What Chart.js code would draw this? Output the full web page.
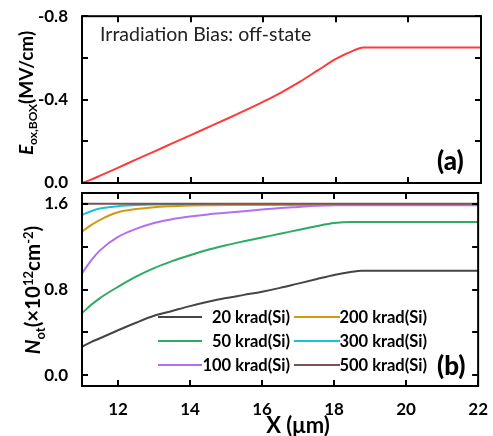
<!DOCTYPE html>
<html>
<head>
<meta charset="utf-8">
<script src="https://cdn.jsdelivr.net/npm/chart.js@4.4.1/dist/chart.umd.min.js"></script>
<style>
  body { margin: 0; background: #fff; }
  #wrap { position: relative; width: 493px; height: 436px; font-family: Lato, sans-serif; overflow: hidden; }
  #wrap canvas { position: absolute; left: 0; top: 0; }
  .txt { position: absolute; white-space: nowrap; color: #000; }
  .ytitle { position: absolute; white-space: nowrap; font-weight: bold; font-size: 19px; transform: translate(-50%, -50%) rotate(-90deg); }
  .ytitle sub, .ytitle sup { font-size: 12px; }
  .leg { position: absolute; height: 20px; }
  .leg .ln { position: absolute; left: 0; top: 9px; height: 2px; }
  .leg .lb { position: absolute; right: 0; top: 0; font-weight: bold; font-size: 16.5px; line-height: 20px; white-space: nowrap; }
</style>
</head>
<body>
<div id="wrap">
  <canvas id="top" width="493" height="436"></canvas>
  <canvas id="bot" width="493" height="436"></canvas>
  <div class="txt" style="left:100px; top:22px; font-size:19.5px; color:#222;">Irradiation Bias: off-state</div>
  <div class="txt" style="left:437px; top:144px; font-size:26px; font-weight:900;">(a)</div>
  <div class="txt" style="left:437px; top:349px; font-size:26px; font-weight:900;">(b)</div>
  <div class="ytitle" style="left:27px; top:93px;"><i>E</i><sub>ox,BOX</sub>(MV/cm)</div>
  <div class="ytitle" style="left:34px; top:290px; font-size:20.5px;"><i>N</i><sub style="font-size:13px">ot</sub>(×10<sup style="font-size:13px">12</sup>cm<sup style="font-size:13px">-2</sup>)</div>
  <div class="txt" style="left:298px; top:424px; font-size:22px; font-weight:bold; transform:translate(-50%,-50%);">X (μm)</div>
  <div id="legend"></div>
</div>
<script>
// x positions (µm) shared by all curves
const xs = [11, 11.25, 11.5, 12, 12.5, 13, 13.5, 14, 14.5, 15, 15.5, 16, 16.5, 17, 17.5, 18, 18.5, 18.75, 19, 20, 21, 22];

// (a) oxide field in the BOX, MV/cm
const eox = [0, -0.016, -0.035, -0.074, -0.113, -0.152, -0.191, -0.23, -0.269, -0.308, -0.348, -0.39, -0.435, -0.485, -0.54, -0.595, -0.636, -0.65, -0.65, -0.65, -0.65, -0.65];

// (b) trapped charge, 1e12 cm^-2
const not20 = [0.265, 0.31, 0.345, 0.42, 0.49, 0.555, 0.6, 0.645, 0.685, 0.72, 0.75, 0.78, 0.815, 0.855, 0.895, 0.935, 0.965, 0.975, 0.975, 0.975, 0.975, 0.975];
const not50 = [0.58, 0.655, 0.72, 0.825, 0.92, 1.0, 1.065, 1.12, 1.17, 1.213, 1.25, 1.285, 1.32, 1.355, 1.39, 1.42, 1.43, 1.43, 1.43, 1.43, 1.43, 1.43];
const not100 = [0.95, 1.07, 1.165, 1.29, 1.365, 1.42, 1.455, 1.48, 1.5, 1.515, 1.53, 1.545, 1.56, 1.57, 1.58, 1.585, 1.585, 1.585, 1.585, 1.585, 1.585, 1.585];
const not200 = [1.34, 1.4, 1.45, 1.52, 1.55, 1.568, 1.577, 1.583, 1.586, 1.588, 1.588, 1.588, 1.588, 1.588, 1.588, 1.588, 1.588, 1.588, 1.588, 1.588, 1.588, 1.588];
const not300 = [1.495, 1.53, 1.555, 1.577, 1.588, 1.592, 1.592, 1.592, 1.592, 1.592, 1.592, 1.592, 1.592, 1.592, 1.592, 1.592, 1.592, 1.592, 1.592, 1.592, 1.592, 1.592];
const not500 = [1.6, 1.6, 1.6, 1.6, 1.6, 1.6, 1.6, 1.6, 1.6, 1.6, 1.6, 1.6, 1.6, 1.6, 1.6, 1.6, 1.6, 1.6, 1.6, 1.6, 1.6, 1.6];

const doseNames = ["20 krad(Si)", "50 krad(Si)", "100 krad(Si)", "200 krad(Si)", "300 krad(Si)", "500 krad(Si)"];
const doseColors = ["#454545", "#2eaa62", "#b36ff0", "#d19a12", "#12c6d6", "#7d5252"];
const doseSeries = [not20, not50, not100, not200, not300, not500];
const doseOrder = [5, 4, 1, 2, 3, 0];

// tick values
const xTickLabels = [12, 14, 16, 18, 20, 22];
const topYLabels = [-0.8, -0.4, 0];
const topYMarks = [-0.8, -0.6, -0.4, -0.2, 0];
const botYLabels = [0, 0.8, 1.6];
const botYMarks = [0, 0.4, 0.8, 1.2, 1.6];

const W = 493, H = 436;
const tickFont = { family: "Lato", weight: "bold", size: 17 };

const framePlugin = {
  id: "frame",
  afterDatasetsDraw(chart, args, opts) {
    const { ctx, chartArea: a, scales } = chart;
    ctx.save();
    ctx.strokeStyle = "#000";
    ctx.lineWidth = 2;
    ctx.beginPath();
    opts.xMarks.forEach((v) => {
      const px = Math.round(scales.x.getPixelForValue(v));
      ctx.moveTo(px, a.bottom); ctx.lineTo(px, a.bottom - 6);
      ctx.moveTo(px, a.top); ctx.lineTo(px, a.top + 6);
    });
    opts.yMarks.forEach((v) => {
      const py = Math.round(scales.y.getPixelForValue(v));
      ctx.moveTo(a.left, py); ctx.lineTo(a.left + 6, py);
      ctx.moveTo(a.right, py); ctx.lineTo(a.right - 6, py);
    });
    ctx.stroke();
    ctx.strokeRect(a.left, a.top, a.right - a.left, a.bottom - a.top);
    ctx.restore();
  }
};

const pts = (ys) => xs.map((x, i) => ({ x: x, y: ys[i] }));

const yAxis = (min, max, labels, reverse) => ({
  type: "linear",
  min: min,
  max: max,
  reverse: reverse,
  grid: { display: false },
  border: { display: false },
  afterBuildTicks: (s) => { s.ticks = labels.map((v) => ({ value: v })); },
  afterFit: (s) => { s.width = 82; },
  ticks: { font: tickFont, color: "#000", padding: 6, callback: (v) => Number(v).toFixed(1) }
});

new Chart(document.getElementById("top"), {
  type: "line",
  data: {
    datasets: [{
      data: pts(eox),
      borderColor: "#ff3a3a",
      borderWidth: 2,
      pointRadius: 0,
      cubicInterpolationMode: "monotone"
    }]
  },
  options: {
    responsive: false,
    animation: false,
    events: [],
    layout: { padding: { left: 0, right: 12, top: 12, bottom: H - 183 } },
    plugins: { legend: { display: false }, tooltip: { enabled: false }, frame: { xMarks: xTickLabels, yMarks: topYMarks } },
    scales: {
      x: { type: "linear", min: 11, max: 22, display: false },
      y: yAxis(-0.8, 0, topYLabels, true)
    }
  },
  plugins: [framePlugin]
});

new Chart(document.getElementById("bot"), {
  type: "line",
  data: {
    datasets: doseSeries.map((ys, i) => ({
      label: doseNames[i],
      data: pts(ys),
      borderColor: doseColors[i],
      borderWidth: 2,
      pointRadius: 0,
      order: doseOrder[i],
      cubicInterpolationMode: "monotone"
    }))
  },
  options: {
    responsive: false,
    animation: false,
    events: [],
    layout: { padding: { left: 0, right: 12, top: 193, bottom: 0 } },
    plugins: { legend: { display: false }, tooltip: { enabled: false }, frame: { xMarks: xTickLabels, yMarks: botYMarks } },
    scales: {
      x: {
        type: "linear",
        min: 11,
        max: 22,
        grid: { display: false },
        border: { display: false },
        afterBuildTicks: (s) => { s.ticks = xTickLabels.map((v) => ({ value: v })); },
        afterFit: (s) => { s.height = H - 386; },
        ticks: { font: tickFont, color: "#000", padding: 5 }
      },
      y: yAxis(-0.1, 1.7, botYLabels, false)
    }
  },
  plugins: [framePlugin]
});

// legend: two columns inside panel (b)
const legCols = [{ left: 158, width: 132, line: 44 }, { left: 294, width: 133, line: 46 }];
const legRows = [307, 331, 355];
const legSlots = [[0, 0], [0, 1], [0, 2], [1, 0], [1, 1], [1, 2]];
const legBox = document.getElementById("legend");
doseNames.forEach((name, i) => {
  const col = legCols[legSlots[i][0]];
  const el = document.createElement("div");
  el.className = "leg";
  el.style.left = col.left + "px";
  el.style.top = legRows[legSlots[i][1]] + "px";
  el.style.width = col.width + "px";
  el.innerHTML = '<div class="ln" style="width:' + col.line + 'px;background:' + doseColors[i] + '"></div><div class="lb">' + name + "</div>";
  legBox.appendChild(el);
});
</script>
</body>
</html>
